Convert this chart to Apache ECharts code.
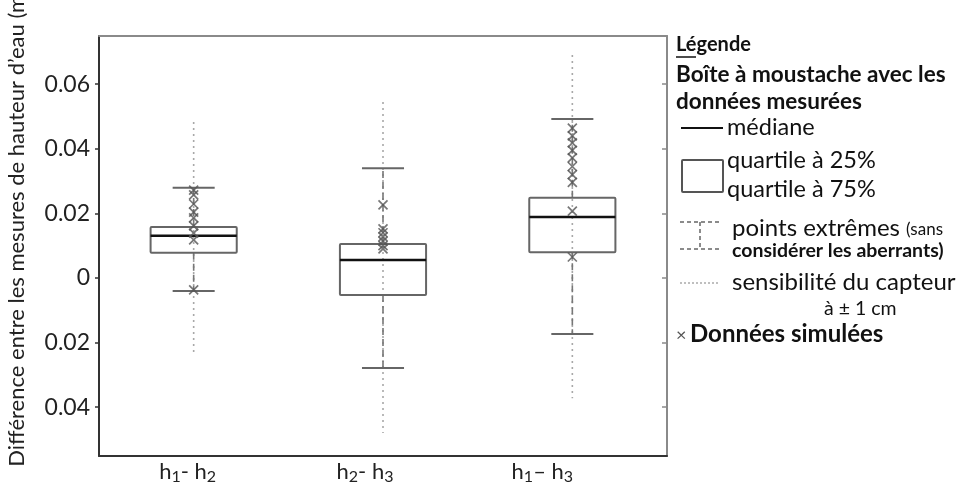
<!DOCTYPE html>
<html><head><meta charset="utf-8">
<script src="https://cdn.jsdelivr.net/npm/echarts@6/dist/echarts.min.js"></script>
<style>html,body{margin:0;padding:0;background:#fff}#c{width:958px;height:492px}</style>
</head><body><div id="c"></div>
<script>
var categories = ['h1- h2', 'h2- h3', 'h1\u2013 h3'];
var lowerWhisker = [-0.0040, -0.0279, -0.0173];
var quartile1 = [0.0078, -0.0053, 0.0080];
var median = [0.0131, 0.0056, 0.0189];
var quartile3 = [0.0158, 0.0105, 0.0248];
var upperWhisker = [0.0279, 0.0340, 0.0492];
var sensorLow = [-0.0238, -0.0480, -0.0372];
var sensorHigh = [0.0483, 0.0545, 0.0690];
var simulated1 = [0.0272, 0.0257, 0.0229, 0.0204, 0.0186, 0.0161, 0.0139, 0.0118, -0.0037];
var simulated2 = [0.0226, 0.0152, 0.0140, 0.0127, 0.0114, 0.0100, 0.0090];
var simulated3 = [0.0464, 0.0440, 0.0418, 0.0395, 0.0372, 0.0345, 0.0320, 0.0296, 0.0207, 0.0065];
var yTicks = [-0.04, -0.02, 0, 0.02, 0.04, 0.06];

var FONT = 'Lato';
var boxData = categories.map(function (c, i) {
  return [i, lowerWhisker[i], quartile1[i], median[i], quartile3[i], upperWhisker[i], sensorLow[i], sensorHigh[i]];
});
var simData = [];
[simulated1, simulated2, simulated3].forEach(function (arr, i) {
  arr.forEach(function (v) { simData.push([i, v]); });
});

function renderBox(params, api) {
  var idx = api.value(0);
  var band = api.size([1, 0])[0];
  var boxW = band * 0.455, capW = band * 0.222;
  function P(v) { return api.coord([idx, v]); }
  var cx = P(0)[0];
  var yLw = P(api.value(1))[1], yQ1 = P(api.value(2))[1], yMed = P(api.value(3))[1],
      yQ3 = P(api.value(4))[1], yUw = P(api.value(5))[1], ySl = P(api.value(6))[1], ySh = P(api.value(7))[1];
  return {
    type: 'group',
    children: [
      { type: 'line', shape: { x1: cx, y1: ySh, x2: cx, y2: ySl },
        style: { stroke: '#a8a8a8', lineWidth: 1.6, lineDash: [2, 4] } },
      { type: 'line', shape: { x1: cx, y1: yQ3, x2: cx, y2: yUw },
        style: { stroke: '#777777', lineWidth: 1.6, lineDash: [7, 4] } },
      { type: 'line', shape: { x1: cx, y1: yQ1, x2: cx, y2: yLw },
        style: { stroke: '#777777', lineWidth: 1.6, lineDash: [7, 4] } },
      { type: 'line', shape: { x1: cx - capW / 2, y1: yUw, x2: cx + capW / 2, y2: yUw },
        style: { stroke: '#666666', lineWidth: 2 } },
      { type: 'line', shape: { x1: cx - capW / 2, y1: yLw, x2: cx + capW / 2, y2: yLw },
        style: { stroke: '#666666', lineWidth: 2 } },
      { type: 'rect', shape: { x: cx - boxW / 2, y: yQ3, width: boxW, height: yQ1 - yQ3, r: 1 },
        style: { fill: 'none', stroke: '#666666', lineWidth: 2 } },
      { type: 'line', shape: { x1: cx - boxW / 2, y1: yMed, x2: cx + boxW / 2, y2: yMed },
        style: { stroke: '#111111', lineWidth: 2.5 } }
    ]
  };
}

var subRich = {
  a: { fontSize: 22, fontFamily: FONT, color: '#222' },
  s: { fontSize: 16, fontFamily: FONT, color: '#222', padding: [10, 0, 0, 0] },
  g0: { width: 12 }, g1: { width: 36 }, g2: { width: 60 }
};

var chart = echarts.init(document.getElementById('c'));
function T(x, y, text, size, bold, extra) {
  var st = { text: text, fontSize: size, fontFamily: FONT, fontWeight: bold ? 'bold' : 'normal', fill: '#111', verticalAlign: 'middle', align: 'left' };
  if (extra) for (var k in extra) st[k] = extra[k];
  return { type: 'text', x: x, y: y, style: st };
}
chart.setOption({
  animation: false,
  backgroundColor: '#fff',
  grid: { left: 99, top: 36, right: 291, bottom: 36, containLabel: false, outerBoundsMode: 'none' },
  xAxis: [{
    type: 'category', data: categories, position: 'bottom',
    axisLine: { onZero: false, lineStyle: { color: '#333', width: 2 } },
    axisTick: { show: false },
    axisLabel: {
      margin: 3,
      formatter: function (v, i) {
        var parts = [['1', '2'], ['2', '3'], ['1', '3']][i];
        var mid = i === 2 ? '\u2013 h' : '- h';
        return '{a|h}{s|' + parts[0] + '}{a|' + mid + '}{s|' + parts[1] + '}{g' + i + '|}';
      },
      rich: subRich
    }
  }, {
    type: 'category', data: categories, position: 'top',
    axisLine: { onZero: false, lineStyle: { color: '#8a8a8a', width: 2 } },
    axisTick: { show: false }, axisLabel: { show: false }
  }],
  yAxis: [{
    type: 'value', min: -0.0551, max: 0.0749, position: 'left',
    splitLine: { show: false },
    axisLine: { show: true, onZero: false, lineStyle: { color: '#333', width: 2 } },
    axisTick: { show: true, length: 4, customValues: yTicks, lineStyle: { color: '#333', width: 1.5 } },
    axisLabel: {
      customValues: yTicks, margin: 9, fontSize: 23, fontFamily: FONT, color: '#222',
      formatter: function (v) { return Math.abs(v) < 1e-9 ? '0' : Math.abs(v).toFixed(2); }
    },
    name: 'Diff\u00e9rence entre les mesures de hauteur d\u2019eau (m)',
    nameLocation: 'middle', nameGap: 71, nameRotate: 90,
    nameTextStyle: { fontSize: 22, fontFamily: FONT, color: '#222', padding: [0, 0, 0, 36] }
  }, {
    type: 'value', min: -0.0551, max: 0.0749, position: 'right',
    splitLine: { show: false },
    axisLine: { show: true, onZero: false, lineStyle: { color: '#8a8a8a', width: 2 } },
    axisTick: { show: true, inside: true, length: 5, customValues: yTicks, lineStyle: { color: '#8a8a8a', width: 1.5 } },
    axisLabel: { show: false }
  }],
  series: [{
    type: 'custom', renderItem: renderBox, data: boxData,
    encode: { x: 0, y: [1, 2, 3, 4, 5, 6, 7] }, z: 2
  }, {
    type: 'scatter', data: simData, z: 3,
    symbol: 'path://M0,0L10,10M10,0L0,10', symbolSize: 9,
    itemStyle: { color: 'transparent', borderColor: '#555', borderWidth: 1.7 }
  }],
  graphic: [
    T(676, 45, 'L\u00e9gende', 20, true),
    { type: 'line', shape: { x1: 676, y1: 57, x2: 696, y2: 57 }, style: { stroke: '#111', lineWidth: 1.5 } },
    T(676, 75, 'Bo\u00eete \u00e0 moustache avec les', 22.5, true),
    T(676, 102, 'donn\u00e9es mesur\u00e9es', 22.5, true),
    { type: 'line', shape: { x1: 681, y1: 128, x2: 723, y2: 128 }, style: { stroke: '#111', lineWidth: 1.8 } },
    T(727, 127, 'm\u00e9diane', 23.5),
    { type: 'rect', shape: { x: 682, y: 160, width: 41, height: 32, r: 1 }, style: { fill: 'none', stroke: '#555', lineWidth: 2 } },
    T(727, 160, 'quartile \u00e0 25%', 23.5),
    T(727, 189, 'quartile \u00e0 75%', 23.5),
    { type: 'line', shape: { x1: 680, y1: 222, x2: 720, y2: 222 }, style: { stroke: '#666', lineWidth: 1.5, lineDash: [4, 3] } },
    { type: 'line', shape: { x1: 700, y1: 222, x2: 700, y2: 249 }, style: { stroke: '#666', lineWidth: 1.5, lineDash: [4, 3] } },
    { type: 'line', shape: { x1: 680, y1: 249, x2: 720, y2: 249 }, style: { stroke: '#666', lineWidth: 1.5, lineDash: [4, 3] } },
    { type: 'text', x: 732, y: 228, style: {
        text: '{a|points extr\u00eames }{b|(sans}', verticalAlign: 'middle',
        rich: { a: { fontSize: 24, fontFamily: FONT, fill: '#111' }, b: { fontSize: 17, fontFamily: FONT, fill: '#111', padding: [4, 0, 0, 0] } } } },
    T(732, 251, 'consid\u00e9rer les aberrants)', 19.5, true),
    { type: 'line', shape: { x1: 680, y1: 283, x2: 719, y2: 283 }, style: { stroke: '#aaa', lineWidth: 1.5, lineDash: [2, 2] } },
    T(732, 282, 'sensibilit\u00e9 du capteur', 24),
    T(824, 309, '\u00e0 \u00b1 1 cm', 19.5),
    T(676, 335, '\u00d7', 18, false, { fill: '#555' }),
    T(690, 334, 'Donn\u00e9es simul\u00e9es', 24, true)
  ]
});
</script>
</body></html>
